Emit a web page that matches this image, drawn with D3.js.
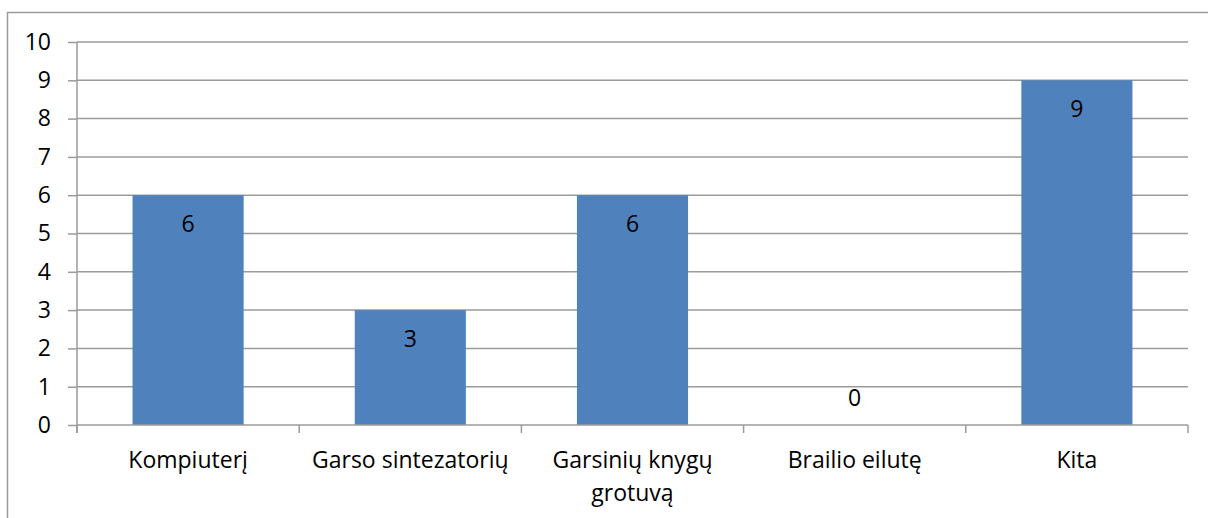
<!DOCTYPE html>
<html>
<head>
<meta charset="utf-8">
<script src="https://cdn.jsdelivr.net/npm/d3@7"></script>
<style>
  html, body { margin: 0; padding: 0; background: #fff; }
  svg { display: block; }
  text { font-family: "Open Sans", "Noto Sans", sans-serif; fill: #000; }
</style>
</head>
<body>
<svg id="chart" width="1208" height="518"></svg>
<script>
// Answers per device category
const categories = ["Kompiuterį", "Garso sintezatorių", "Garsinių knygų grotuvą", "Brailio eilutę", "Kita"];
const values = [6, 3, 6, 0, 9];
const yTicks = [0, 1, 2, 3, 4, 5, 6, 7, 8, 9, 10];

const svg = d3.select("#chart");
const plot = { left: 77, right: 1188, top: 42, bottom: 425 };
const gridColor = "#9b9b9b";
const barColor = "#4f81bd";
const fontSize = 23;

// Outer chart frame
svg.append("rect")
  .attr("x", 7.5).attr("y", 12.5)
  .attr("width", 1230).attr("height", 540)
  .attr("fill", "none")
  .attr("stroke", gridColor)
  .attr("stroke-width", 1.5);

const y = d3.scaleLinear().domain([0, 10]).range([plot.bottom, plot.top]);
const x = d3.scaleBand()
  .domain(categories)
  .range([plot.left, plot.right])
  .paddingInner(0.5)
  .paddingOuter(0.25);
const step = x.step();

// Horizontal gridlines
svg.append("g")
  .selectAll("line")
  .data(yTicks.filter(d => d > 0))
  .join("line")
  .attr("x1", plot.left).attr("x2", plot.right)
  .attr("y1", d => y(d)).attr("y2", d => y(d))
  .attr("stroke", gridColor)
  .attr("stroke-width", 1.5);

// Bars
svg.append("g")
  .selectAll("rect")
  .data(categories.map((c, i) => ({ c, v: values[i] })))
  .join("rect")
  .attr("x", d => x(d.c))
  .attr("width", x.bandwidth())
  .attr("y", d => y(d.v))
  .attr("height", d => y(0) - y(d.v))
  .attr("fill", barColor);

// Value labels inside the bar ends
svg.append("g")
  .selectAll("text")
  .data(categories.map((c, i) => ({ c, v: values[i] })))
  .join("text")
  .attr("x", d => x(d.c) + x.bandwidth() / 2)
  .attr("y", d => d.v > 0 ? y(d.v) + 37 : y(0) - 19)
  .attr("text-anchor", "middle")
  .style("font-size", fontSize + "px")
  .text(d => d.v);

// Y axis with outward tick marks
const yAxis = svg.append("g")
  .attr("transform", `translate(${plot.left},0)`)
  .call(d3.axisLeft(y).tickValues(yTicks).tickSize(9).tickSizeOuter(0).tickPadding(17));
yAxis.select(".domain").remove();
yAxis.selectAll(".tick line").attr("stroke", gridColor).attr("stroke-width", 1.5);
yAxis.selectAll(".tick text")
  .style("font-size", fontSize + "px")
  .style("font-family", "'Open Sans', sans-serif")
  .attr("fill", "#000");
svg.append("line")
  .attr("x1", plot.left).attr("x2", plot.left)
  .attr("y1", plot.top).attr("y2", plot.bottom + 8)
  .attr("stroke", gridColor).attr("stroke-width", 1.5);

// X axis baseline and category boundary ticks
svg.append("line")
  .attr("x1", plot.left).attr("x2", plot.right)
  .attr("y1", plot.bottom).attr("y2", plot.bottom)
  .attr("stroke", gridColor).attr("stroke-width", 1.5);
svg.append("g")
  .selectAll("line")
  .data(d3.range(categories.length + 1))
  .join("line")
  .attr("x1", i => plot.left + i * step).attr("x2", i => plot.left + i * step)
  .attr("y1", plot.bottom).attr("y2", plot.bottom + 8)
  .attr("stroke", gridColor).attr("stroke-width", 1.5);

// Category labels, wrapped to the category width
const labels = svg.append("g")
  .selectAll("text")
  .data(categories)
  .join("text")
  .attr("text-anchor", "middle")
  .style("font-size", fontSize + "px")
  .attr("x", c => x(c) + x.bandwidth() / 2)
  .attr("y", 468);

labels.each(function(c) {
  const el = d3.select(this);
  const words = c.split(" ");
  const maxW = step - 10;
  let lines = [];
  let line = [];
  const probe = el.append("tspan");
  words.forEach(w => {
    const trial = line.concat(w).join(" ");
    probe.text(trial);
    if (probe.node().getComputedTextLength() > maxW && line.length) {
      lines.push(line.join(" "));
      line = [w];
    } else {
      line.push(w);
    }
  });
  lines.push(line.join(" "));
  probe.remove();
  const cx = el.attr("x");
  lines.forEach((t, i) => {
    el.append("tspan").attr("x", cx).attr("dy", i === 0 ? 0 : 33).text(t);
  });
});
</script>
</body>
</html>
